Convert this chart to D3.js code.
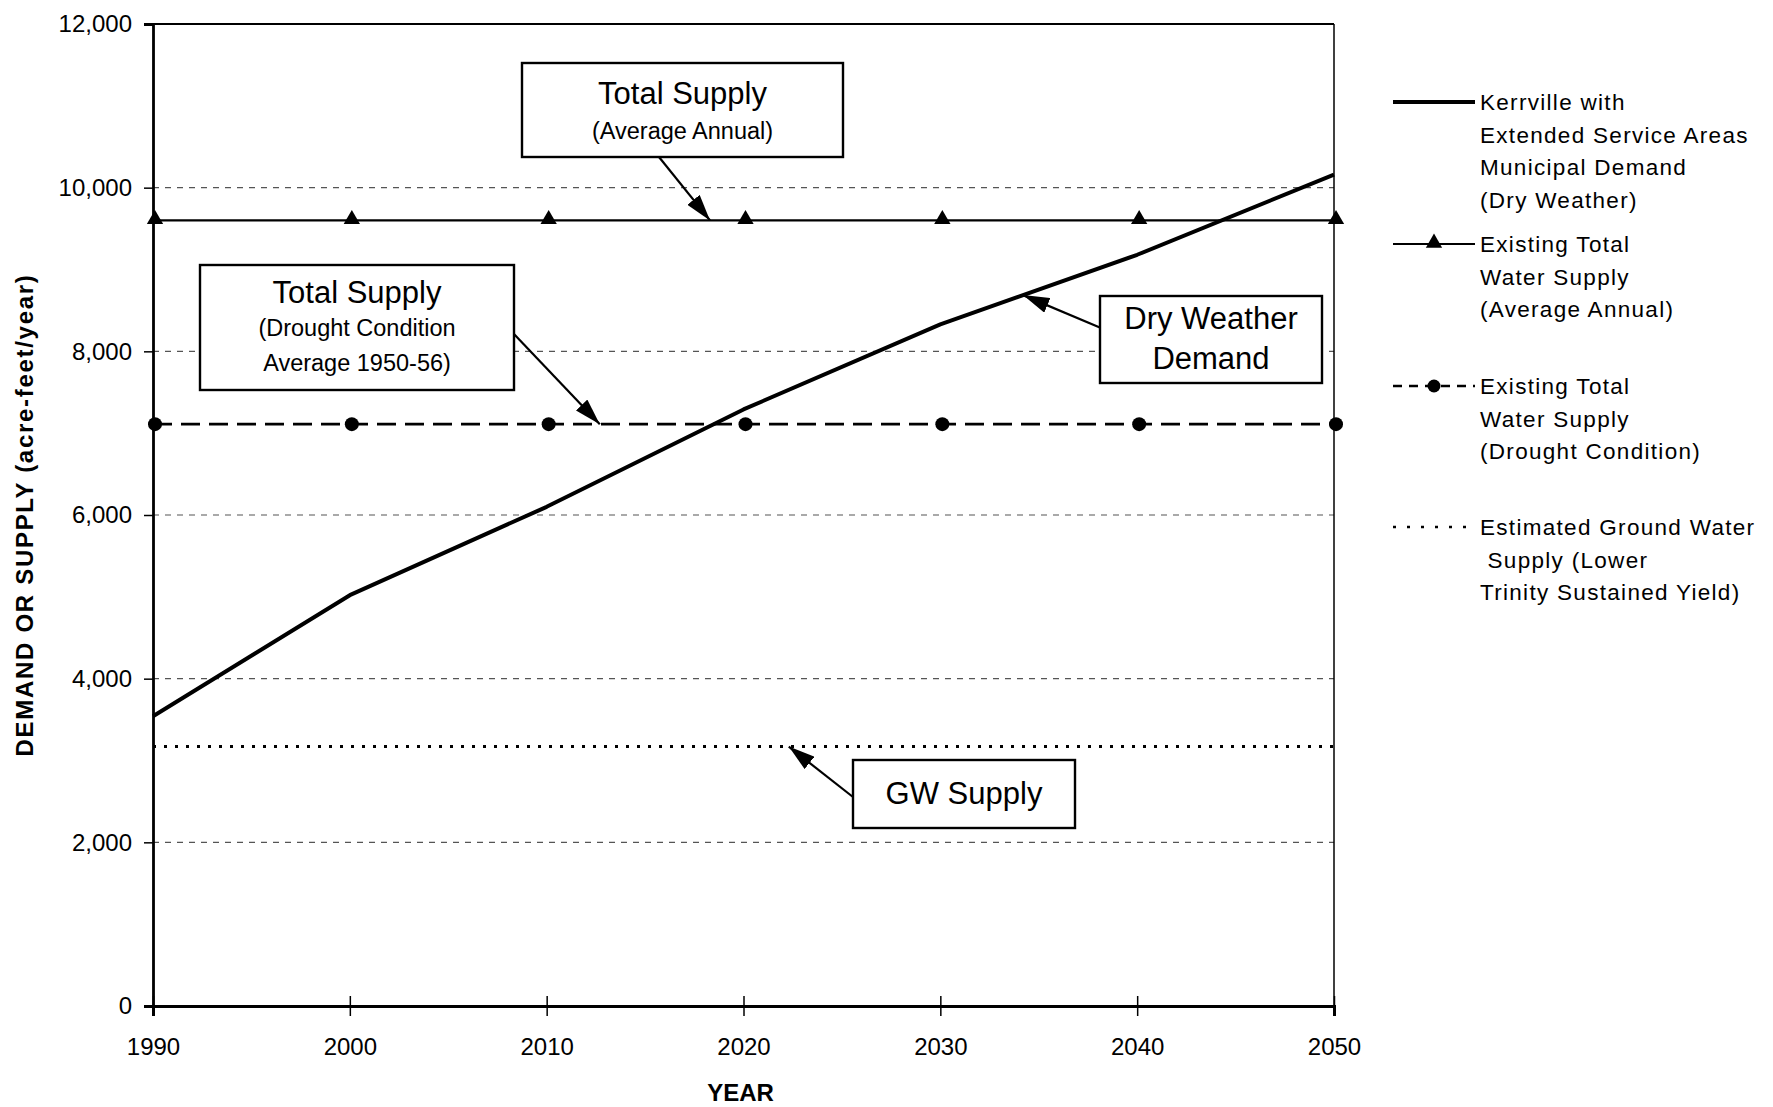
<!DOCTYPE html>
<html>
<head>
<meta charset="utf-8">
<script src="https://cdn.jsdelivr.net/npm/d3@7"></script>
<style>
  html, body { margin: 0; padding: 0; background: #fff; }
  svg { display: block; font-family: "Liberation Sans", Arial, sans-serif; }
</style>
</head>
<body>
<svg id="chart" width="1773" height="1107"></svg>
<script>
// Kerrville water demand vs. supply, 1990-2050 (acre-feet/year)
const years = [1990, 2000, 2010, 2020, 2030, 2040, 2050];
const dryWeatherDemand = [3540, 5020, 6100, 7290, 8330, 9180, 10160];
const avgAnnualSupply = [9600, 9600, 9600, 9600, 9600, 9600, 9600];
const droughtSupply = [7110, 7110, 7110, 7110, 7110, 7110, 7110];
const groundWaterSupply = [3170, 3170, 3170, 3170, 3170, 3170, 3170];
const yTicks = [0, 2000, 4000, 6000, 8000, 10000, 12000];
const xTicks = [1990, 2000, 2010, 2020, 2030, 2040, 2050];

const legendItems = [
  ["Kerrville with", "Extended Service Areas", "Municipal Demand", "(Dry Weather)"],
  ["Existing Total", "Water Supply", "(Average Annual)"],
  ["Existing Total", "Water Supply", "(Drought Condition)"],
  ["Estimated Ground Water", " Supply (Lower", "Trinity Sustained Yield)"]
];

const svg = d3.select("#chart");
const plotLeft = 153, plotRight = 1334, plotTop = 24, plotBottom = 1006;

const x = d3.scaleLinear().domain([1990, 2050]).range([plotLeft, plotRight]);
const y = d3.scaleLinear().domain([0, 12000]).range([plotBottom, plotTop]);
// demand at any year, piecewise linear between the decade values
const demandAt = d3.scaleLinear().domain(years).range(dryWeatherDemand);

// horizontal gridlines
svg.append("g")
  .selectAll("line")
  .data(yTicks.filter(v => v > 0 && v < 12000))
  .join("line")
  .attr("x1", plotLeft).attr("x2", plotRight)
  .attr("y1", d => y(d)).attr("y2", d => y(d))
  .attr("stroke", "#555").attr("stroke-width", 1.2)
  .attr("stroke-dasharray", "6,6");

// plot frame: top and right edges
svg.append("line").attr("x1", plotLeft).attr("x2", plotRight).attr("y1", y(12000)).attr("y2", y(12000))
  .attr("stroke", "#000").attr("stroke-width", 2);
svg.append("line").attr("x1", plotRight).attr("x2", plotRight).attr("y1", y(12000)).attr("y2", y(0))
  .attr("stroke", "#000").attr("stroke-width", 1.5);

// y axis
const yAxis = d3.axisLeft(y).tickValues(yTicks).tickSize(9).tickPadding(12)
  .tickFormat(d3.format(","));
const gy = svg.append("g").attr("transform", `translate(${plotLeft},0)`).call(yAxis);
gy.select(".domain").attr("stroke-width", 2.8);
gy.selectAll(".tick line").attr("stroke-width", 1.5);
gy.selectAll("text").attr("font-size", 24).attr("fill", "#000")
  .attr("font-family", "'Liberation Sans', Arial, sans-serif");

// x axis (ticks cross the axis line)
const xAxis = d3.axisBottom(x).tickValues(xTicks).tickSize(10).tickPadding(22)
  .tickFormat(d3.format("d"));
const gx = svg.append("g").attr("transform", `translate(0,${plotBottom})`).call(xAxis);
gx.select(".domain").attr("stroke-width", 3);
gx.selectAll(".tick line").attr("y1", -10).attr("stroke-width", 1.5);
gx.selectAll("text").attr("font-size", 24).attr("fill", "#000")
  .attr("font-family", "'Liberation Sans', Arial, sans-serif");

// axis titles
svg.append("text")
  .attr("transform", `translate(33,${(plotTop + plotBottom) / 2}) rotate(-90)`)
  .attr("text-anchor", "middle").attr("font-weight", "bold").attr("font-size", 24)
  .attr("letter-spacing", 1.7)
  .text("DEMAND OR SUPPLY (acre-feet/year)");
svg.append("text")
  .attr("x", x(2020) - 3).attr("y", 1101)
  .attr("text-anchor", "middle").attr("font-weight", "bold").attr("font-size", 24)
  .text("YEAR");

const line = d3.line().x(d => x(d[0])).y(d => y(d[1]));
const pts = vals => years.map((yr, i) => [yr, vals[i]]);

// ground water supply (dotted)
svg.append("path").datum(pts(groundWaterSupply)).attr("d", line)
  .attr("fill", "none").attr("stroke", "#000").attr("stroke-width", 3)
  .attr("stroke-dasharray", "3,8").attr("stroke-linecap", "butt");

// drought-condition supply (dashed with circles)
svg.append("path").datum(pts(droughtSupply)).attr("d", line)
  .attr("fill", "none").attr("stroke", "#000").attr("stroke-width", 2.8)
  .attr("stroke-dasharray", "19,9");
svg.append("g").selectAll("circle").data(pts(droughtSupply)).join("circle")
  .attr("cx", d => x(d[0]) + 2).attr("cy", d => y(d[1])).attr("r", 7).attr("fill", "#000");

// average annual supply (solid with triangles)
svg.append("path").datum(pts(avgAnnualSupply)).attr("d", line)
  .attr("fill", "none").attr("stroke", "#000").attr("stroke-width", 2.2);
const tri = d3.symbol().type(d3.symbolTriangle).size(115);
svg.append("g").selectAll("path").data(pts(avgAnnualSupply)).join("path")
  .attr("d", tri)
  .attr("transform", d => `translate(${x(d[0]) + 2},${y(d[1]) - 1})`)
  .attr("fill", "#000");

// dry weather demand (thick solid)
svg.append("path").datum(pts(dryWeatherDemand)).attr("d", line)
  .attr("fill", "none").attr("stroke", "#000").attr("stroke-width", 4)
  .attr("stroke-linejoin", "round");

// arrowhead marker for callouts
svg.append("defs").append("marker")
  .attr("id", "arrow").attr("viewBox", "0 0 10 6")
  .attr("refX", 10).attr("refY", 3)
  .attr("markerWidth", 12).attr("markerHeight", 7.2)
  .attr("markerUnits", "strokeWidth")
  .attr("orient", "auto")
  .append("path").attr("d", "M0,0 L10,3 L0,6 Z").attr("fill", "#000");

// callout boxes: [x0, y0, x1, y1], text lines, arrow from -> to
function callout(box, lines, from, to) {
  svg.append("line")
    .attr("x1", from[0]).attr("y1", from[1]).attr("x2", to[0]).attr("y2", to[1])
    .attr("stroke", "#000").attr("stroke-width", 2.2)
    .attr("marker-end", "url(#arrow)");
  svg.append("rect")
    .attr("x", box[0]).attr("y", box[1])
    .attr("width", box[2] - box[0]).attr("height", box[3] - box[1])
    .attr("fill", "#fff").attr("stroke", "#000").attr("stroke-width", 2.4);
  const cx = (box[0] + box[2]) / 2;
  lines.forEach(l => {
    svg.append("text").attr("x", cx).attr("y", l.y)
      .attr("text-anchor", "middle").attr("font-size", l.size).text(l.text);
  });
}

callout([522, 63, 843, 157],
  [{ text: "Total Supply", y: 104, size: 31 }, { text: "(Average Annual)", y: 139, size: 23.5 }],
  [659, 157], [x(2018.3), y(avgAnnualSupply[0])]);

callout([200, 265, 514, 390],
  [{ text: "Total Supply", y: 303, size: 31 }, { text: "(Drought Condition", y: 336, size: 23.5 },
   { text: "Average 1950-56)", y: 371, size: 23.5 }],
  [513, 333], [x(2012.7), y(droughtSupply[0])]);

callout([1100, 296, 1322, 383],
  [{ text: "Dry Weather", y: 329, size: 31 }, { text: "Demand", y: 369, size: 31 }],
  [1101, 328], [x(2034.2), y(demandAt(2034.2))]);

callout([853, 760, 1075, 828],
  [{ text: "GW Supply", y: 804, size: 31 }],
  [853, 797], [x(2022.3), y(groundWaterSupply[0])]);

// legend
const lgX0 = 1393, lgX1 = 1475, lgText = 1480;
const lgY = [102, 244, 386, 527];
const lg = svg.append("g");
// sample 1: thick solid
lg.append("line").attr("x1", lgX0).attr("x2", lgX1).attr("y1", lgY[0]).attr("y2", lgY[0])
  .attr("stroke", "#000").attr("stroke-width", 3.8);
// sample 2: solid with triangle
lg.append("line").attr("x1", lgX0).attr("x2", lgX1).attr("y1", lgY[1]).attr("y2", lgY[1])
  .attr("stroke", "#000").attr("stroke-width", 1.8);
lg.append("path").attr("d", tri).attr("transform", `translate(${(lgX0 + lgX1) / 2},${lgY[1] - 1})`);
// sample 3: dashed with circle
lg.append("line").attr("x1", lgX0).attr("x2", lgX1).attr("y1", lgY[2]).attr("y2", lgY[2])
  .attr("stroke", "#000").attr("stroke-width", 2.4).attr("stroke-dasharray", "9,7");
lg.append("circle").attr("cx", (lgX0 + lgX1) / 2).attr("cy", lgY[2]).attr("r", 6.5);
// sample 4: dotted
lg.append("line").attr("x1", lgX0).attr("x2", lgX1 - 4).attr("y1", lgY[3]).attr("y2", lgY[3])
  .attr("stroke", "#000").attr("stroke-width", 2.4).attr("stroke-dasharray", "3,11");

legendItems.forEach((item, i) => {
  item.forEach((t, j) => {
    lg.append("text")
      .attr("x", lgText).attr("y", lgY[i] + 8 + j * 32.5)
      .attr("font-size", 22.5).attr("letter-spacing", 1.3)
      .style("white-space", "pre")
      .text(t);
  });
});
</script>
</body>
</html>
